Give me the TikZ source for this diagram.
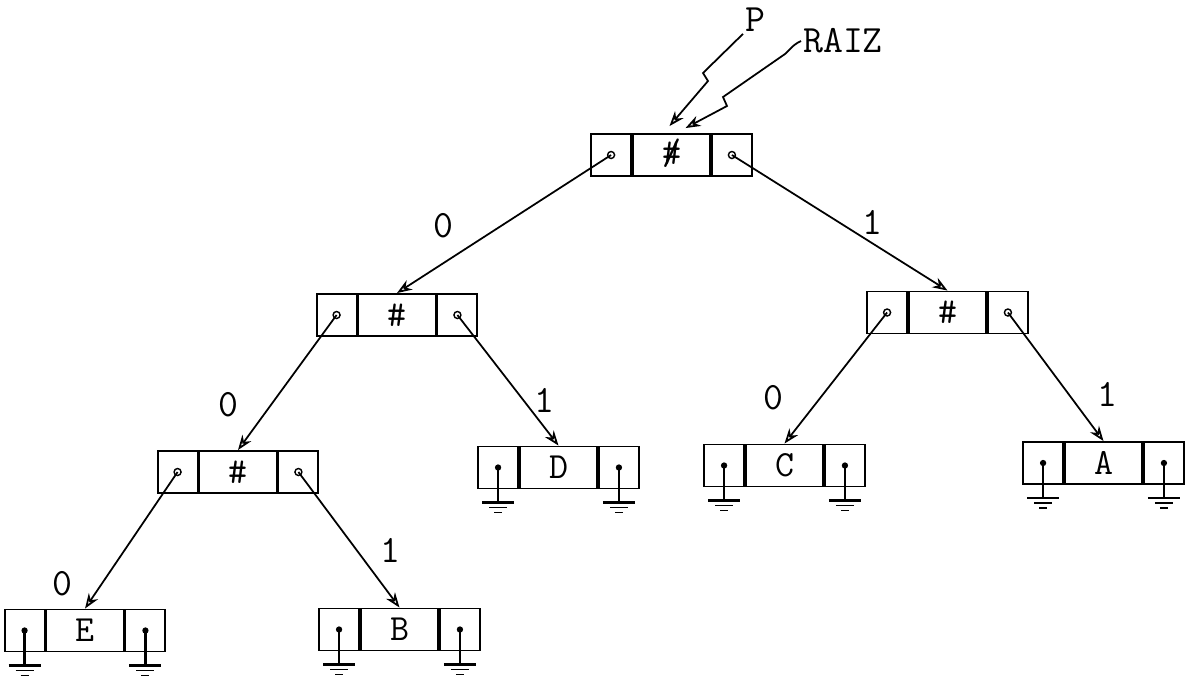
\documentclass[tikz,border=0pt]{standalone}
\usepackage{fontspec}
\usepackage{tikz}
\usetikzlibrary{arrows.meta,positioning,calc}
\tikzset{
  midcell/.style={draw,line width=1.1pt,minimum width=1.54cm,minimum height=0.84cm,
                  inner sep=0pt,font=\fontsize{21}{24}\selectfont\ttfamily},
  sidecell/.style={draw,line width=1.1pt,minimum width=0.8cm,minimum height=0.84cm,
                   inner sep=0pt},
  edgelbl/.style={inner sep=1pt,font=\fontsize{22}{26}\selectfont\ttfamily},
  treearr/.style={-{Stealth[open,length=3mm,width=2.2mm]},line width=1pt},
  zigarr/.style={-{Stealth[open,length=3mm,width=2.2mm]},line width=1pt},
  earthline/.style={line width=1.3pt},
  earthsmall/.style={line width=0.7pt}
}
% one record: left pointer | info | right pointer
\newcommand{\record}[3]{%
  \node[midcell] (#1) at (#2) {#3};
  \node[sidecell,left=0pt of #1] (#1L) {};
  \node[sidecell,right=0pt of #1] (#1R) {};
}
% pointer cell holding a link
\newcommand{\linkdot}[1]{\draw[line width=0.8pt] (#1.center) circle (2pt);}
% pointer cell holding nil (ground)
\newcommand{\earth}[1]{%
  \fill (#1.center) circle (1.8pt);
  \draw[earthline] (#1.center) -- ++(0,35);
  \draw[earthline] ($(#1.center)+(-16,35)$) -- ++(32,0);
  \draw[earthsmall] ($(#1.center)+(-9,40)$) -- ++(18,0);
  \draw[earthsmall] ($(#1.center)+(-4,45)$) -- ++(8,0);
}
\begin{document}
\begin{tikzpicture}[x=0.02cm,y=-0.02cm]
  \useasboundingbox (0,0) rectangle (1186,681);
  % records
  \record{raiz}{671.5,155}{\ooalign{\#\cr\hidewidth/\hidewidth}}
  \record{hash0}{397,315}{\#}
  \record{hash1}{947.5,312.5}{\#}
  \record{hash00}{238,472}{\#}
  \record{leafD}{558.5,467.5}{D}
  \record{leafC}{784.5,465.5}{C}
  \record{leafA}{1103.5,463}{A}
  \record{leafE}{85,630.5}{E}
  \record{leafB}{399.5,629.5}{B}
  % pointers
  \foreach \n in {raiz,hash0,hash1,hash00}{\linkdot{\n L}\linkdot{\n R}}
  \foreach \n in {leafD,leafC,leafA,leafE,leafB}{\earth{\n L}\earth{\n R}}
  % links
  \draw[treearr] (raizL.center) -- (hash0.north);
  \draw[treearr] (raizR.center) -- (hash1.north);
  \draw[treearr] (hash0L.center) -- (hash00.north);
  \draw[treearr] (hash0R.center) -- (leafD.north);
  \draw[treearr] (hash1L.center) -- (leafC.north);
  \draw[treearr] (hash1R.center) -- (leafA.north);
  \draw[treearr] (hash00L.center) -- (leafE.north);
  \draw[treearr] (hash00R.center) -- (leafB.north);
  % bit labels
  \node[edgelbl] (bit0) at (443,226) {0};
  \node[edgelbl] (bit1) at (872,222) {1};
  \node[edgelbl] (bit00) at (228,405) {0};
  \node[edgelbl] (bit01) at (544,400) {1};
  \node[edgelbl] (bit10) at (773,398) {0};
  \node[edgelbl] (bit11) at (1107,394) {1};
  \node[edgelbl] (bit000) at (62,584) {0};
  \node[edgelbl] (bit001) at (390,550) {1};
  % P and RAIZ
  \node[edgelbl] (ptrP) at (755,20) {P};
  \node[edgelbl] (ptrRaiz) at (843,41) {RAIZ};
  \draw[zigarr] (ptrP.south west) -- (703,73) -- (708,81) -- ($(raiz.north)+(-2,-7)$);
  \draw[zigarr] (ptrRaiz.west) .. controls (795,44) .. (785,54) -- (723,97)
    -- (727,106) -- ($(raiz.north)+(14,-5)$);
\end{tikzpicture}
\end{document}
